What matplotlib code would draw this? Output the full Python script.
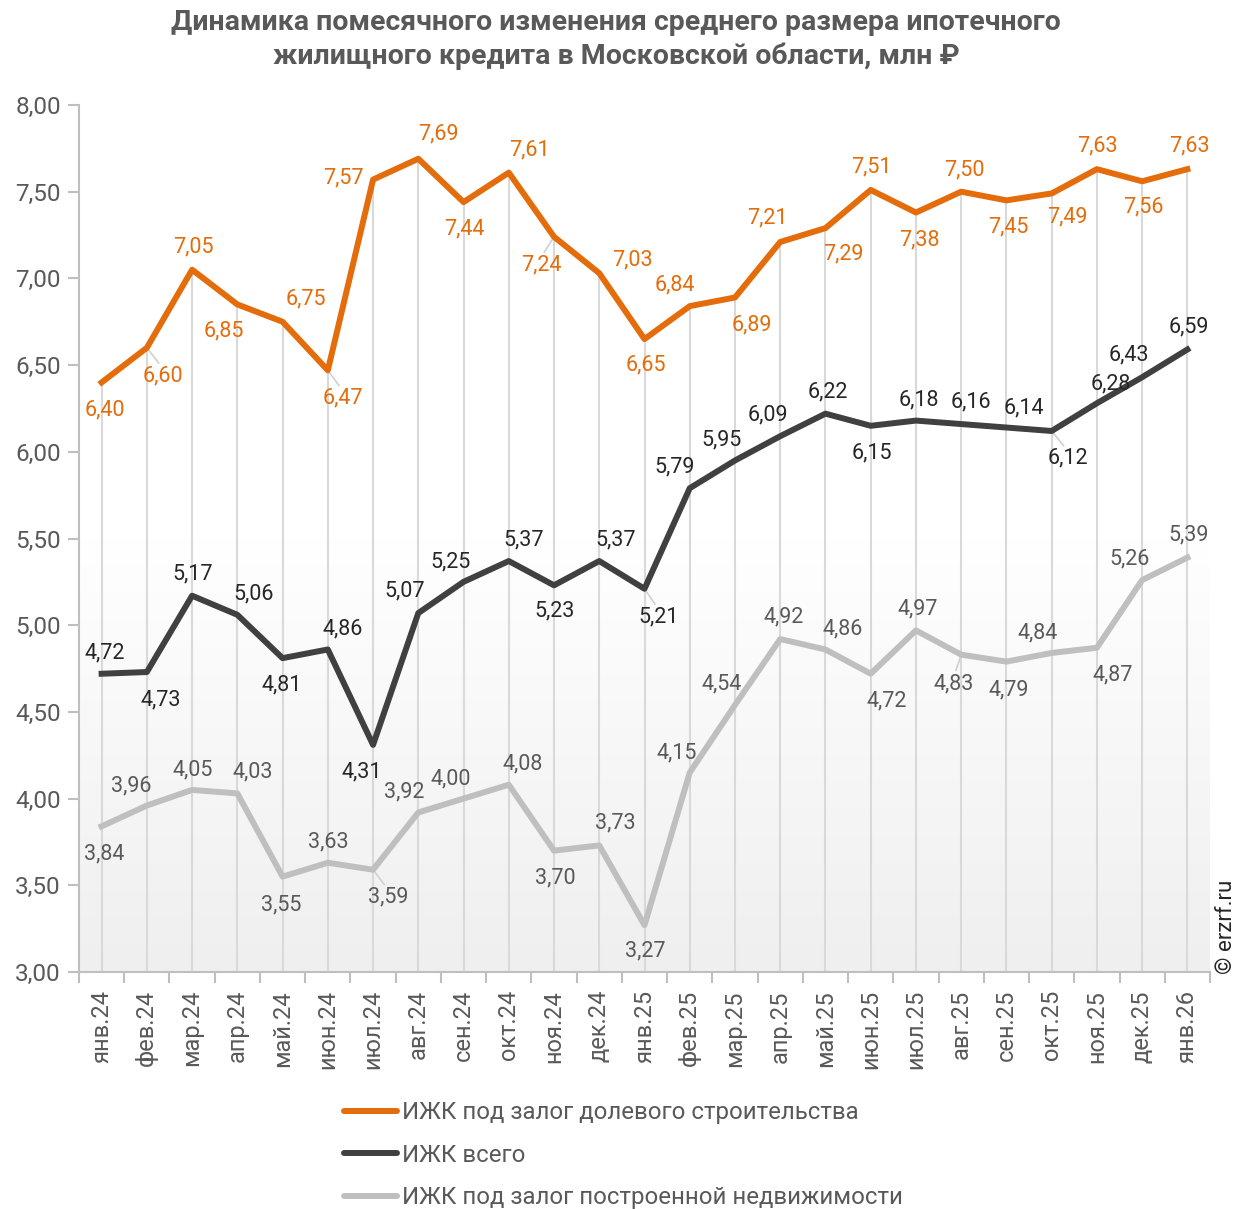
import matplotlib
matplotlib.use("Agg")
import matplotlib.pyplot as plt
import numpy as np
from matplotlib.colors import LinearSegmentedColormap

plt.rcParams['font.family'] = ['Roboto', 'DejaVu Sans']

months = ["янв.24", "фев.24", "мар.24", "апр.24", "май.24", "июн.24", "июл.24",
          "авг.24", "сен.24", "окт.24", "ноя.24", "дек.24", "янв.25", "фев.25",
          "мар.25", "апр.25", "май.25", "июн.25", "июл.25", "авг.25", "сен.25",
          "окт.25", "ноя.25", "дек.25", "янв.26"]

shared = [6.40, 6.60, 7.05, 6.85, 6.75, 6.47, 7.57, 7.69, 7.44, 7.61, 7.24, 7.03, 6.65,
          6.84, 6.89, 7.21, 7.29, 7.51, 7.38, 7.50, 7.45, 7.49, 7.63, 7.56, 7.63]
total = [4.72, 4.73, 5.17, 5.06, 4.81, 4.86, 4.31, 5.07, 5.25, 5.37, 5.23, 5.37, 5.21,
         5.79, 5.95, 6.09, 6.22, 6.15, 6.18, 6.16, 6.14, 6.12, 6.28, 6.43, 6.59]
built = [3.84, 3.96, 4.05, 4.03, 3.55, 3.63, 3.59, 3.92, 4.00, 4.08, 3.70, 3.73, 3.27,
         4.15, 4.54, 4.92, 4.86, 4.72, 4.97, 4.83, 4.79, 4.84, 4.87, 5.26, 5.39]

names = ["ИЖК под залог долевого строительства", "ИЖК всего",
         "ИЖК под залог построенной недвижимости"]
yticks = [3.0, 3.5, 4.0, 4.5, 5.0, 5.5, 6.0, 6.5, 7.0, 7.5, 8.0]

# label offsets in pixels (dx, dy) ; dy positive = up
off_shared = [(3, -27), (16, -28), (1, 23), (-14, -27), (23, 23), (15, -28), (-30, 2),
              (20, 25), (1, -27), (21, 23), (-13, -28), (33, 13), (1, -26), (-15, 21),
              (17, -27), (-13, 24), (18, -26), (1, 23), (3, -27), (3, 22), (2, -27),
              (16, -24), (1, 23), (1, -26), (2, 23)]
off_total = [(3, 21), (14, -28), (1, 22), (16, 21), (-1, -27), (15, 21), (-11, -27),
             (-14, 22), (-13, 20), (15, 21), (1, -26), (16, 21), (14, -28), (-15, 21),
             (-13, 21), (-12, 21), (2, 22), (1, -27), (3, 21), (10, 22), (17, 20),
             (16, -27), (14, 19), (-13, 22), (1, 23)]
off_built = [(3, -28), (-16, 20), (1, 20), (15, 21), (-1, -28), (0, 21), (15, -27),
             (-14, 21), (-13, 20), (14, 21), (1, -27), (16, 22), (1, -26), (-13, 20),
             (-13, 21), (3, 22), (17, 21), (16, -27), (2, 21), (-7, -29), (2, -28),
             (-14, 20), (16, -27), (-13, 21), (1, 23)]
leaders_shared = [1, 5, 10]
leaders_total = [12, 21]
leaders_built = [6, 19]

c_orange = "#E46C0A"
c_dark = "#404040"
c_gray = "#BFBFBF"
c_text = "#595959"

fig = plt.figure(figsize=(12.54, 12.09), dpi=100)
ax = fig.add_axes([79 / 1254, 1 - 972 / 1209, (1210 - 79) / 1254, (972 - 105) / 1209])

x = np.arange(len(months))
ax.set_xlim(-0.5, len(months) - 0.5)
ax.set_ylim(3.0, 8.0)

# gradient background (white at top, light grey at bottom)
grad = np.linspace(1, 0, 256).reshape(-1, 1)
cmap = LinearSegmentedColormap.from_list("bg", ["#ffffff", "#ffffff", "#efefef"])
ax.imshow(grad, extent=[-0.5, len(months) - 0.5, 3.0, 8.0], aspect='auto',
          cmap=cmap, origin='lower', zorder=0, vmin=0, vmax=1)

# drop lines
ax.vlines(x, 3.0, shared, colors="#d9d9d9", linewidth=1.5, zorder=1)

ax.plot(x, shared, color=c_orange, lw=4.3, solid_joinstyle='round', zorder=3, label=names[0])
ax.plot(x, total, color=c_dark, lw=4.3, solid_joinstyle='round', zorder=3, label=names[1])
ax.plot(x, built, color=c_gray, lw=4.3, solid_joinstyle='round', zorder=3, label=names[2])


def fmt(v):
    return f"{v:.2f}".replace(".", ",")


def labels(vals, offs, color, leaders):
    for i, (v, (dx, dy)) in enumerate(zip(vals, offs)):
        ax.annotate(fmt(v), (x[i], v), xytext=(dx, dy), textcoords='offset pixels',
                    ha='center', va='center', fontsize=15.5, color=color, zorder=5)
        if i in leaders:
            ax.annotate("", (x[i], v), xytext=(dx * 0.75, dy * 0.55), textcoords='offset pixels',
                        arrowprops=dict(arrowstyle='-', color='#d0d0d0', lw=1.2,
                                        shrinkA=0, shrinkB=0), zorder=2)


labels(shared, off_shared, c_orange, leaders_shared)
labels(total, off_total, "#262626", leaders_total)
labels(built, off_built, c_text, leaders_built)

ax.set_yticks(yticks)
ax.set_yticklabels([fmt(v) for v in yticks], fontsize=17.5, color=c_text)
ax.set_xticks(x)
ax.set_xticklabels(months, rotation=90, fontsize=17, color=c_text)
ax.set_xticks(np.arange(-0.5, len(months)), minor=True)
ax.tick_params(axis='x', which='major', length=0, pad=13)
ax.tick_params(axis='x', which='minor', length=8, color="#bfbfbf", width=1.5)
ax.tick_params(axis='y', length=8, color="#bfbfbf", width=1.5, pad=5)
for s in ['top', 'right']:
    ax.spines[s].set_visible(False)
for s in ['left', 'bottom']:
    ax.spines[s].set_color("#bfbfbf")
    ax.spines[s].set_linewidth(1.5)

fig.text(616 / 1254, 1 - 22 / 1209,
         "Динамика помесячного изменения среднего размера ипотечного",
         ha='center', va='center', fontsize=20.5, fontweight='bold', color=c_text)
fig.text(616 / 1254, 1 - 56 / 1209,
         "жилищного кредита в Московской области, млн ₽",
         ha='center', va='center', fontsize=20.5, fontweight='bold', color=c_text)

fig.text(1226 / 1254, 1 - 927 / 1209, "© erzrf.ru", rotation=90, ha='center', va='center',
         fontsize=16, color="#262626")

leg = fig.legend(loc='upper left', bbox_to_anchor=(332 / 1254, 1 - 1089 / 1209),
                 frameon=False, fontsize=17.3, handlelength=2.2, handletextpad=0.2,
                 labelspacing=0.82, borderpad=0)
for t in leg.get_texts():
    t.set_color(c_text)
for h in leg.legend_handles:
    h.set_linewidth(4.3)
    h.set_solid_capstyle('round')

fig.savefig("out.png", dpi=100)
